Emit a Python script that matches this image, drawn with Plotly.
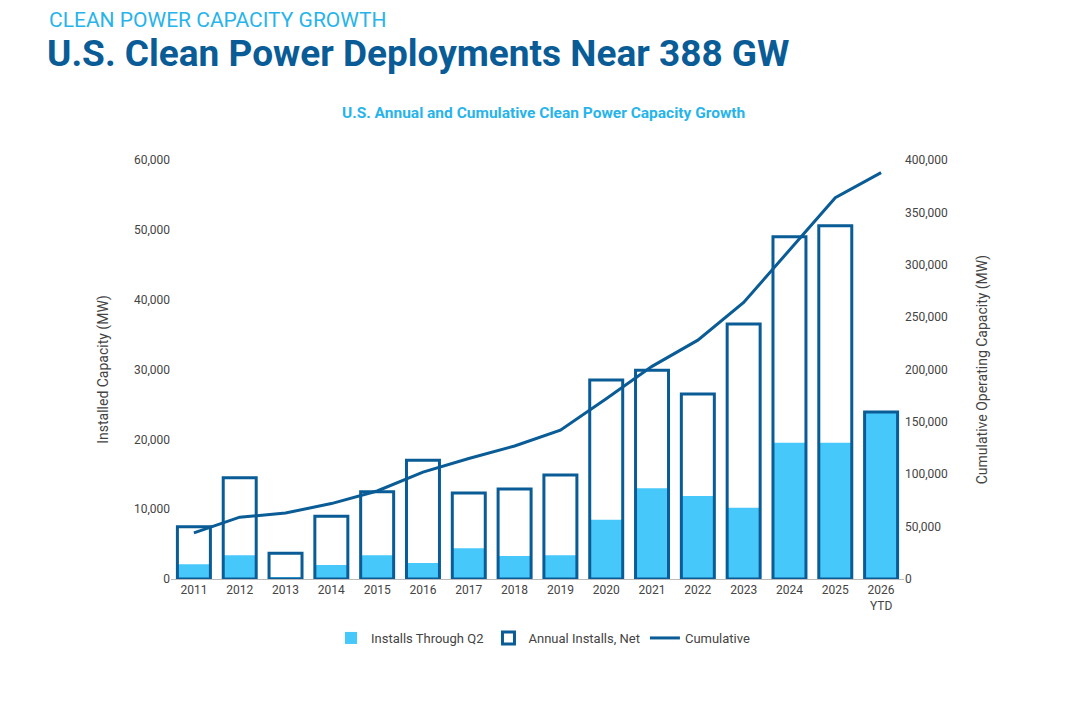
import plotly.graph_objects as go

years = ["2011", "2012", "2013", "2014", "2015", "2016", "2017", "2018", "2019",
         "2020", "2021", "2022", "2023", "2024", "2025", "2026<br>YTD"]
annual_net = [7500, 14500, 3700, 9000, 12500, 17000, 12300, 12900, 14900,
              28500, 29900, 26500, 36500, 49000, 50600, 23900]
through_q2 = [2100, 3400, 300, 2000, 3400, 2300, 4400, 3300, 3400,
              8500, 13000, 11900, 10200, 19500, 19500, 23900]
cumulative = [44000, 59000, 63000, 72000, 84000, 102000, 115000, 127000, 142000,
              172000, 203000, 228000, 264000, 314000, 364000, 388000]

dark = "#0a5c96"
light = "#47c8fa"
grey = "#444444"

W, H = 1087, 712
L, R, T, B = 163, 191, 152, 141
pw, ph = W - L - R, H - T - B


def px(x, y):
    # page pixel (as seen in the screenshot) -> paper coords, page offset 8px
    return (x - 8 - L) / pw, (H - B - (y - 8)) / ph


fig = go.Figure()
fig.add_trace(go.Bar(x=years, y=through_q2, name="Installs Through Q2",
                     marker=dict(color=light, line=dict(width=0)), width=0.72))
fig.add_trace(go.Bar(x=years, y=annual_net, name="Annual Installs, Net",
                     marker=dict(color="rgba(0,0,0,0)", line=dict(color=dark, width=3)),
                     width=0.72))
fig.add_trace(go.Scatter(x=years, y=cumulative, name="Cumulative", yaxis="y2",
                         mode="lines", line=dict(color=dark, width=3)))

x0, y0 = px(47, 6)
x1, y1 = px(45, 30)
x2, y2 = px(543, 113)
lx, ly = px(543, 638)

fig.update_layout(
    width=W, height=H,
    paper_bgcolor="white", plot_bgcolor="white",
    barmode="overlay",
    font=dict(family="Roboto", size=12, color=grey),
    margin=dict(l=L, r=R, t=T, b=B),
    xaxis=dict(showgrid=False, showline=True, linecolor="#bbbbbb", ticks="",
               tickfont=dict(size=12, color=grey)),
    yaxis=dict(range=[0, 60000], dtick=10000, tickformat=",", showgrid=False,
               zeroline=False, title=dict(text="Installed Capacity (MW)", standoff=22,
                                          font=dict(size=14, color=grey))),
    yaxis2=dict(range=[0, 400000], dtick=50000, tickformat=",", overlaying="y",
                side="right", showgrid=False, zeroline=False,
                title=dict(text="Cumulative Operating Capacity (MW)", standoff=30,
                           font=dict(size=14, color=grey))),
    legend=dict(orientation="h", x=lx, xanchor="center", y=ly, yanchor="middle",
                font=dict(size=13, color=grey), traceorder="normal"),
    annotations=[
        dict(text="CLEAN POWER CAPACITY GROWTH", xref="paper", yref="paper",
             x=x0, y=y0, xanchor="left", yanchor="top", showarrow=False,
             font=dict(size=21, color="#27b4ea", family="Roboto")),
        dict(text="<b>U.S. Clean Power Deployments Near 388 GW</b>", xref="paper",
             yref="paper", x=x1, y=y1, xanchor="left", yanchor="top", showarrow=False,
             font=dict(size=37, color=dark, family="Roboto")),
        dict(text="<b>U.S. Annual and Cumulative Clean Power Capacity Growth</b>",
             xref="paper", yref="paper", x=x2, y=y2, xanchor="center", yanchor="middle",
             showarrow=False, font=dict(size=15.5, color="#27b4ea", family="Roboto")),
    ],
)

fig.write_html("out.html")
